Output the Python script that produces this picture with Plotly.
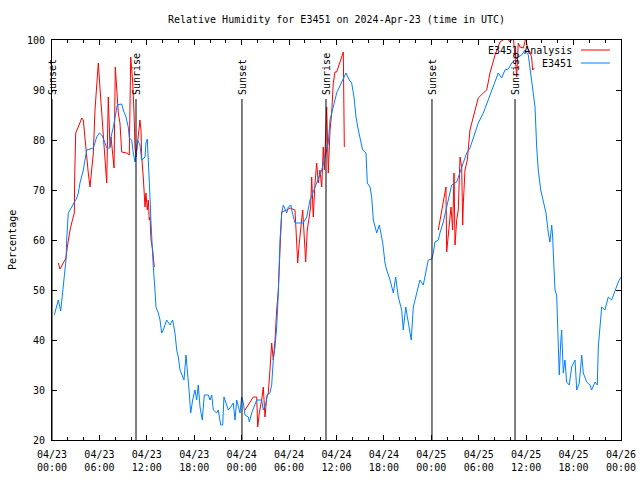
import datetime as dt
import plotly.graph_objects as go

BASE = dt.datetime(2024, 4, 23, 0, 0)

# Observed station relative humidity (hours since 04/23 00:00 UTC, %)
obs_hours = [0.29, 0.80, 1.10, 1.23, 1.43, 1.56, 1.77, 1.86, 2.06, 2.28, 2.82, 3.13, 3.33, 3.54, 3.96, 4.39,
             5.23, 5.66, 5.99, 6.29, 6.58, 6.92, 7.34, 7.47, 7.76, 7.97, 8.26, 8.82, 9.02, 9.36, 9.65, 9.78,
             10.08, 10.29, 10.50, 10.72, 10.84, 11.13, 11.35, 11.77, 11.89, 12.06, 12.19, 12.31, 12.40, 12.53,
             12.62, 12.82, 13.03, 13.16, 13.45, 13.67, 13.88, 14.08, 14.51, 14.93, 15.27, 15.56, 15.78, 15.98,
             16.20, 16.54, 16.70, 16.96, 17.17, 17.37, 17.55, 17.80, 18.09, 18.31, 18.51, 18.73, 19.02, 19.27,
             19.78, 19.99, 20.21, 20.41, 20.84, 21.04, 21.35, 21.60, 21.76, 22.02, 22.31, 22.61, 22.94, 23.16,
             23.37, 23.79, 24.00, 24.21, 24.42, 24.84, 24.97, 25.27, 25.90, 26.53, 26.74, 27.08, 27.24, 27.58,
             27.80, 28.00, 28.22, 28.43, 28.64, 28.85, 29.07, 29.27, 29.70, 29.90, 30.24, 30.33, 30.75, 31.80,
             32.23, 32.65, 33.49, 34.13, 34.54, 34.96, 35.18, 35.59, 36.02, 36.66, 37.20, 37.62, 37.92, 38.21,
             38.47, 38.76, 39.06, 39.31, 39.73, 39.90, 40.24, 40.45, 40.66, 40.74, 41.09, 41.42, 41.85, 42.14,
             42.35, 42.77, 43.19, 43.49, 43.82, 44.25, 44.45, 44.76, 45.08, 45.30, 45.46, 45.72, 46.15, 46.56,
             46.98, 47.41, 47.61, 48.05, 48.25, 48.46, 48.88, 49.09, 49.51, 49.94, 50.58, 51.21, 51.84, 52.47,
             52.89, 53.31, 53.94, 54.58, 55.21, 55.64, 56.06, 56.47, 56.90, 57.32, 57.74, 58.17, 58.59, 59.00,
             59.43, 59.85, 60.27, 60.57, 60.90, 61.12, 61.33, 61.53, 61.84, 62.17, 62.51, 62.80, 63.01, 63.23,
             63.36, 63.43, 63.65, 63.86, 64.06, 64.19, 64.37, 64.49, 64.70, 64.91, 65.12, 65.45, 65.76, 66.18,
             66.40, 66.72, 67.03, 67.23, 67.66, 68.08, 68.29, 68.71, 69.00, 69.13, 69.34, 69.56, 69.97, 70.39,
             70.82, 71.24, 71.66, 72.00]
obs_rh = [45, 48, 45.8, 48, 50, 52, 56, 60, 65.4, 66, 67.4, 68.4, 69.4, 71.4, 74, 78,
          78.4, 80.6, 81.4, 81, 80, 78.4, 78.4, 80.6, 82.6, 84.6, 87, 87.2, 86, 84.6, 82.6, 80.4,
          80, 77.4, 75.6, 78, 80, 79, 76, 76.6, 79.4, 80.2, 76.4, 73.4, 68.6, 63.4,
          59.4, 54.6, 50, 46.6, 45.4, 44, 41.4, 42, 44, 43, 44, 41.4, 38, 36.6,
          34, 32.6, 32, 37, 32, 29.4, 25.4, 28, 30, 28, 31, 26.6, 24, 29,
          29, 28, 29, 26, 25.4, 26, 23, 23, 28.6, 27.4, 26, 26.6, 27.4, 24,
          28, 25.4, 28.6, 27.4, 25, 24.6, 23.6, 25.4, 28, 28, 26, 27.4, 29, 29.4,
          31, 36, 38.6, 42.6, 49.4, 60, 65.4, 67, 65.4, 66.6, 67, 66, 63.4, 63.4,
          64.6, 68, 71.4, 74, 76.6, 79.4, 84, 86.6, 89.4, 91.6, 93.4, 92, 91.4, 88.6,
          84.6, 82, 80, 78, 77.4, 71.4, 70.6, 68.6, 64, 63.4, 61.4, 63, 59.4, 55.4,
          54, 52, 49.4, 52.6, 48.6, 46, 42, 46.6, 43.4, 41.4, 40, 46.6, 49.4, 52,
          51, 54, 56, 56.2, 57.4, 59.6, 60, 61.4, 63.6, 66.6, 71, 71.6, 74.6, 77.4,
          78.4, 80.4, 83.4, 85.4, 88, 89.6, 91.4, 93.4, 92.4, 94, 94.2, 95.4, 96, 96.6,
          97, 98, 97, 93.4, 90, 86.6, 78.6, 74, 70, 67.4, 65.4, 61.4, 59.6, 63,
          60.6, 57.4, 50, 49, 41, 33, 39.4, 42, 33.4, 36, 31.6, 31, 34.6, 36,
          30, 31.4, 37, 33.4, 31.6, 31, 30, 31.6, 31, 38.6, 42.6, 46.6, 46, 48.6,
          48, 50, 51.6, 52.6]

# Analysis relative humidity, three daytime segments
ana1_hours = [0.80, 1.01, 1.43, 1.77, 1.94, 2.19, 2.28, 2.49, 2.82, 2.88, 3.00, 3.33, 3.76, 3.96, 4.18, 4.39,
              4.59, 4.81, 5.02, 5.23, 5.44, 5.66, 5.86, 6.07, 6.29, 6.49, 6.71, 6.83, 6.92, 7.12, 7.34, 7.47,
              7.68, 7.85, 8.01, 8.19, 8.39, 8.60, 8.82, 9.45, 9.78, 9.96, 10.21, 10.38, 10.50, 10.63, 10.72,
              10.92, 11.13, 11.26, 11.35, 11.55, 11.77, 11.89, 12.06, 12.19, 12.31, 12.40, 12.53, 12.74, 12.94]
ana1_rh = [55.4, 54.2, 55.4, 56.4, 58.6, 61.4, 62, 63.4, 65.4, 73.4, 81.4, 82.6, 84.4, 84, 80, 76.6,
           73.4, 70.6, 74, 77.4, 86, 91.4, 95.4, 90.4, 85.4, 80.6, 76.6, 73.4, 71.4, 88.6, 78.6, 80.6,
           76.6, 74.4, 94.6, 90.4, 85.4, 83.4, 77.6, 77.4, 77, 96.6, 91.6, 85.4, 78.6, 76.6, 78,
           80, 84, 82, 76.6, 72.6, 66.6, 69.4, 66, 68, 64, 64.6, 60, 58, 54.6]
ana2_hours = [24.42, 24.97, 25.47, 25.90, 26.03, 26.23, 26.32, 26.53, 26.74, 26.95, 27.17, 27.37, 27.58, 27.80,
              28.00, 28.22, 28.43, 28.64, 28.85, 29.07, 29.70, 30.12, 30.75, 30.96, 31.09, 31.29, 31.51, 31.72,
              31.89, 32.10, 32.30, 32.52, 32.73, 32.86, 33.06, 33.28, 33.49, 33.70, 33.91, 34.13, 34.33, 34.46,
              34.63, 34.76, 34.96, 35.18, 35.39, 35.59, 35.81, 36.02, 36.44, 36.86, 36.99]
ana2_rh = [26, 27.4, 28.6, 28.6, 22.6, 25.4, 26, 28, 30.6, 24.6, 28.6, 29.4, 34, 39.4,
           36, 40, 46, 50, 58, 65.6, 66, 66.4, 66, 60.6, 55.4, 59.4, 63.4, 66,
           61.4, 55.6, 62, 64, 66.6, 72.6, 64.6, 71.4, 75.4, 71.4, 74, 70.6, 78.6, 74,
           82, 86.6, 73.4, 82, 85.4, 91.4, 93.6, 93.6, 95.6, 97.6, 78.6]
ana3_hours = [48.88, 49.09, 49.31, 49.51, 49.85, 49.94, 50.14, 50.36, 50.49, 50.70, 50.87, 51.00, 51.21, 51.41,
              51.63, 51.84, 51.97, 52.05, 52.26, 52.55, 52.89, 53.31, 53.94, 54.58, 55.01, 55.42, 55.76, 56.06,
              56.69, 57.54, 57.95, 58.37, 58.67, 58.80, 59.00, 59.22, 59.64, 59.98, 60.14, 60.48, 60.70, 60.82,
              61.03]
ana3_rh = [62, 64, 66, 68, 70.6, 57.6, 61.4, 64, 66.6, 62, 73.4, 59, 64, 66,
           76.6, 74.6, 63, 67.4, 74, 76, 82, 84.6, 88.4, 89.4, 90, 93.4, 95.6, 97,
           99.6, 100.5, 99.6, 100.5, 95.4, 92.6, 99.4, 98.6, 98.4, 100.5, 98.4, 97.6, 96.4, 94,
           94.4]

# Sun events (hours since 04/23 00:00 UTC)
sun_names = ["Sunset", "Sunrise", "Sunset", "Sunrise", "Sunset", "Sunrise"]
sun_hours = [0.0, 10.63, 24.04, 34.67, 48.08, 58.59]

y_ticks = [20, 30, 40, 50, 60, 70, 80, 90, 100]


def to_time(hours):
    return [BASE + dt.timedelta(hours=h) for h in hours]


FONT = "DejaVu Sans Mono"
RED = "#ff0000"
BLUE = "#0080ff"

ana_x, ana_y = [], []
for hs, vs in ((ana1_hours, ana1_rh), (ana2_hours, ana2_rh), (ana3_hours, ana3_rh)):
    ana_x += to_time(hs) + [None]
    ana_y += vs + [None]

fig = go.Figure()
fig.add_trace(go.Scatter(x=ana_x, y=ana_y, mode="lines", name="E3451 Analysis",
                         line=dict(color=RED, width=1), connectgaps=False))
fig.add_trace(go.Scatter(x=to_time(obs_hours), y=obs_rh, mode="lines", name="E3451",
                         line=dict(color=BLUE, width=1)))

for name, h in zip(sun_names, sun_hours):
    t = BASE + dt.timedelta(hours=h)
    fig.add_trace(go.Scatter(x=[t, t], y=[20, 88.2], mode="lines", showlegend=False,
                             line=dict(color="black", width=1), hoverinfo="skip"))
    fig.add_annotation(x=t, y=88.6, text=name, textangle=-90, showarrow=False,
                       xanchor="center", yanchor="bottom", font=dict(family=FONT, size=10, color="black"))

# Legend (gnuplot style: text to the left of the sample line)
legend_items = [("E3451 Analysis", RED, 0.975), ("E3451", BLUE, 0.9425)]
for text, col, yy in legend_items:
    fig.add_annotation(xref="paper", yref="paper", x=0.9174, y=yy, text=text, showarrow=False,
                       xanchor="right", yanchor="middle", font=dict(family=FONT, size=10, color="black"))
    fig.add_shape(type="line", xref="paper", yref="paper", x0=0.9297, x1=0.9807, y0=yy, y1=yy,
                  line=dict(color=col, width=1))

fig.add_annotation(xref="paper", yref="paper", x=0, xshift=-40, y=0.5, text="Percentage",
                   textangle=-90, showarrow=False, xanchor="center", yanchor="middle",
                   font=dict(family=FONT, size=10, color="black"))

fig.update_layout(
    width=640, height=480,
    margin=dict(l=52, r=19, t=40, b=40, autoexpand=False),
    paper_bgcolor="white", plot_bgcolor="white",
    showlegend=False,
    font=dict(family=FONT, size=10, color="black"),
    title=dict(text="Relative Humidity for E3451 on 2024-Apr-23 (time in UTC)",
               x=336.5 / 640, xanchor="center", y=1 - 19 / 480, yanchor="middle",
               xref="container", yref="container", automargin=False,
               font=dict(family=FONT, size=10, color="black")),
    xaxis=dict(type="date", range=[BASE, BASE + dt.timedelta(hours=72)], automargin=False,
               dtick=6 * 3600 * 1000, tick0=BASE, tickformat="%m/%d<br>%H:%M",
               ticks="inside", ticklen=5, tickcolor="black", tickwidth=1,
               minor=dict(dtick=2 * 3600 * 1000, ticks="inside", ticklen=3, tickcolor="black", tickwidth=1),
               showline=True, linecolor="black", linewidth=1, mirror="ticks",
               showgrid=False, zeroline=False, ticklabelstandoff=5),
    yaxis=dict(range=[20, 100], tickvals=y_ticks, ticktext=[str(v) for v in y_ticks], automargin=False,
               ticks="inside", ticklen=5, tickcolor="black", tickwidth=1,
               showline=True, linecolor="black", linewidth=1, mirror="ticks",
               showgrid=False, zeroline=False, ticklabelstandoff=4),
)

fig.write_html("out.html", config={"displayModeBar": False},
               post_script="document.body.style.margin='0';document.body.style.overflow='hidden';")
